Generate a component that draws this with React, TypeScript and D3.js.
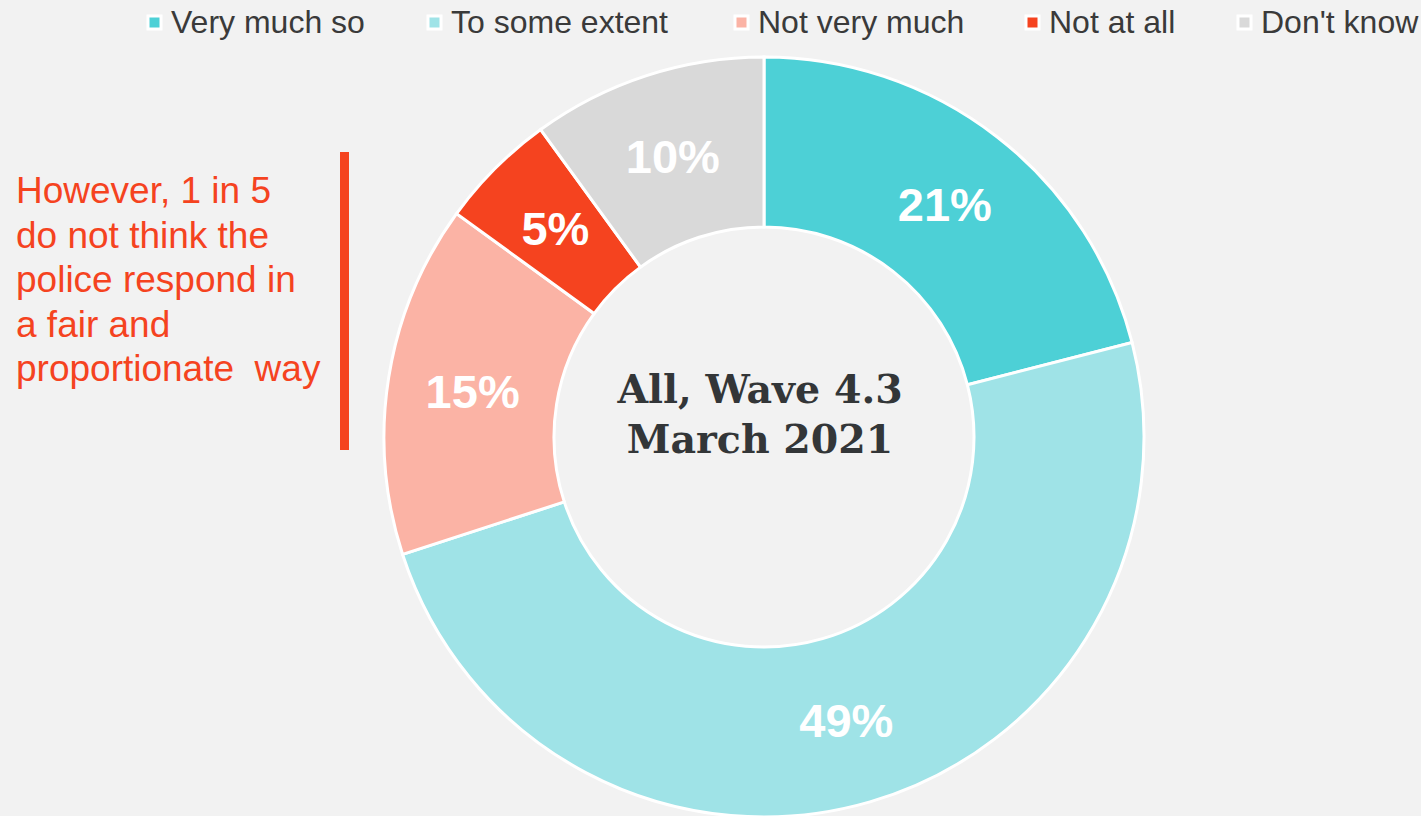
import React from "react";
import * as d3 from "d3";

const categories = ["Very much so", "To some extent", "Not very much", "Not at all", "Don't know"];
const values = [21, 49, 15, 5, 10];
const colors = ["#4DD0D6", "#9FE3E7", "#FBB3A5", "#F5431F", "#D9D9D9"];
const legendX = [148, 428, 735, 1026, 1238];
const annotationLines = ["However, 1 in 5", "do not think the", "police respond in", "a fair and", "proportionate  way"];
const centerLines = ["All, Wave 4.3", "March 2021"];

const W = 1421;
const H = 816;
const cx = 764;
const cy = 437;
const outerR = 380;
const innerR = 210;

export default function App() {
  const pie = d3.pie<number>().sort(null).value((d) => d)(values);
  const arc = d3.arc<d3.PieArcDatum<number>>().innerRadius(innerR).outerRadius(outerR);
  return (
    <svg
      width={W}
      height={H}
      style={{ position: "absolute", left: 0, top: 0, display: "block" }}
    >
      <rect width={W} height={H} fill="#F2F2F2" />
      {/* legend */}
      {categories.map((c, i) => (
        <g key={c}>
          <rect
            x={legendX[i]}
            y={16}
            width={13}
            height={13}
            fill={colors[i]}
            stroke="#FFFFFF"
            strokeWidth={3}
          />
          <text
            x={legendX[i] + 23}
            y={33}
            fontFamily="Liberation Sans, Arial, sans-serif"
            fontSize={32}
            fill="#3A3A3A"
          >
            {c}
          </text>
        </g>
      ))}
      {/* donut */}
      <g transform={`translate(${cx},${cy})`}>
        {pie.map((p, i) => (
          <path key={i} d={arc(p) || ""} fill={colors[i]} stroke="#FFFFFF" strokeWidth={3} />
        ))}
        {pie.map((p, i) => {
          const [x, y] = arc.centroid(p);
          return (
            <text
              key={"l" + i}
              x={x}
              y={y}
              dy="0.36em"
              textAnchor="middle"
              fontFamily="Liberation Sans, Arial, sans-serif"
              fontWeight="bold"
              fontSize={47}
              fill="#FFFFFF"
            >
              {values[i]}%
            </text>
          );
        })}
        {centerLines.map((t, i) => (
          <text
            key={t}
            x={-4}
            y={-34 + i * 50}
            textAnchor="middle"
            fontFamily="DejaVu Serif, serif"
            fontWeight="bold"
            fontSize={39.5}
            fill="#333638"
          >
            {t}
          </text>
        ))}
      </g>
      {/* annotation */}
      {annotationLines.map((t, i) => (
        <text
          key={t}
          x={16}
          y={203 + i * 44.5}
          fontFamily="Liberation Sans, Arial, sans-serif"
          fontSize={37}
          fill="#F5431F"
          style={{ whiteSpace: "pre" }}
        >
          {t}
        </text>
      ))}
      <rect x={340} y={152} width={9} height={298} fill="#F5431F" />
    </svg>
  );
}
